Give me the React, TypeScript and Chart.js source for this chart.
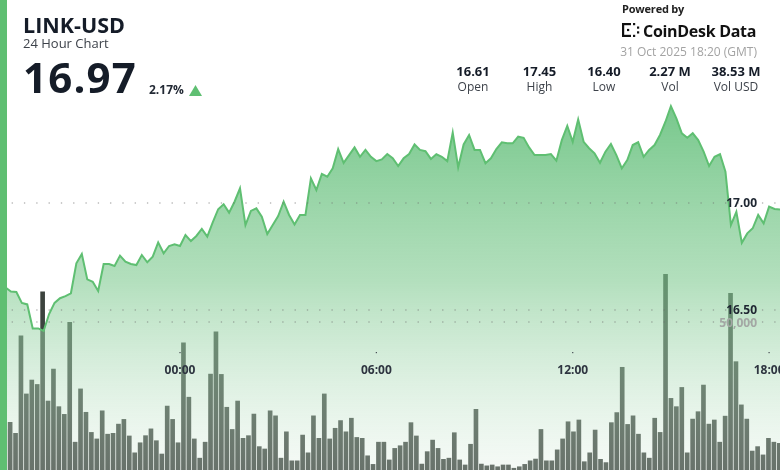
import React, { useEffect, useRef } from "react";
import { Chart, registerables } from "chart.js";

Chart.register(...registerables);

// ---- Data (10-minute intervals, 24h ending 31 Oct 2025 18:20 GMT) ----
const firstTimeLabel = "18:30"; // previous day
const intervalMinutes = 10;

const prices: number[] = [
  16.610, 16.605, 16.586, 16.584, 16.533, 16.526, 16.414, 16.414, 16.402, 16.481,
  16.533, 16.555, 16.565, 16.578, 16.718, 16.762, 16.643, 16.632, 16.589, 16.715,
  16.715, 16.706, 16.754, 16.726, 16.715, 16.710, 16.757, 16.723, 16.749, 16.816,
  16.765, 16.799, 16.807, 16.799, 16.850, 16.822, 16.846, 16.879, 16.843, 16.910,
  16.971, 16.994, 16.955, 17.006, 17.069, 16.897, 16.963, 16.975, 16.936, 16.855,
  16.897, 16.939, 17.006, 16.944, 16.900, 16.944, 16.944, 17.115, 17.061, 17.136,
  17.123, 17.162, 17.252, 17.188, 17.224, 17.260, 17.216, 17.248, 17.216, 17.196,
  17.204, 17.229, 17.210, 17.173, 17.209, 17.229, 17.274, 17.248, 17.242, 17.206,
  17.228, 17.216, 17.196, 17.329, 17.167, 17.274, 17.318, 17.248, 17.248, 17.186,
  17.209, 17.252, 17.284, 17.279, 17.279, 17.310, 17.305, 17.260, 17.224, 17.224,
  17.224, 17.229, 17.198, 17.294, 17.360, 17.286, 17.391, 17.286, 17.256, 17.232,
  17.188, 17.240, 17.276, 17.224, 17.162, 17.201, 17.271, 17.284, 17.216, 17.248,
  17.271, 17.318, 17.380, 17.453, 17.396, 17.326, 17.305, 17.326, 17.294, 17.240,
  17.173, 17.216, 17.228, 17.146, 16.897, 16.959, 16.814, 16.858, 16.882, 16.944,
  16.905, 16.983, 16.972, 16.970,
];

const volumes: number[] = [
  14000,
  16100, 12400, 45300, 25700, 30400, 28900, 60200, 23300, 34100, 21400,
  18800, 49900, 9400, 27400, 19500, 12700, 10500, 20000, 12100, 12400,
  15500, 17100, 11500, 5800, 9200, 11600, 13900, 9900, 5400, 21600,
  17100, 9200, 43000, 24600, 10500, 4000, 9400, 32400, 46700, 32300,
  21200, 13700, 23300, 10700, 11600, 18900, 7900,
  7100, 20000, 18300, 4000, 12900, 3100, 3100, 11800, 5800, 18300,
  10700, 25700, 10500, 14100, 16700, 12900, 17500, 11000, 10700, 4800,
  1900, 9400, 9400, 3400, 7300, 8200, 9400, 16000, 11500, 2000,
  6200, 10100, 7300, 3600, 4000, 12600, 3400, 1700, 8700, 20500,
  2000, 1400, 1700, 1100, 1700, 1700, 600, 1100,
  1900, 3100, 3700, 13700, 3100, 3100, 6800, 10500, 16300, 12900,
  16900, 2800, 5800, 13500, 3600, 2500, 16000, 19400, 34700, 15400,
  18300, 12100, 5800, 4000, 17500, 12700, 66100, 24200, 21400, 27900,
  5800, 17200, 19700, 28700, 15500, 16900, 9400, 18200, 59700, 36600,
  22000, 17200, 6400, 7900, 5100, 10700, 9400,
  9000,
];

const priceTicks: number[] = [17.0, 16.5];
const volumeTicks: number[] = [50000];
const timeTickLabels: string[] = ["00:00", "06:00", "12:00", "18:00"];

const statValues: string[] = ["16.61", "17.45", "16.40", "2.27 M", "38.53 M"];
const statLabels: string[] = ["Open", "High", "Low", "Vol", "Vol USD"];

// time labels for the category axis (one per bar / point)
const buildTimeLabels = (n: number) => {
  const [h, m] = firstTimeLabel.split(":").map(Number);
  const out: string[] = [];
  for (let i = 0; i < n; i++) {
    const t = (h * 60 + m + i * intervalMinutes) % 1440;
    out.push(`${String(Math.floor(t / 60)).padStart(2, "0")}:${String(t % 60).padStart(2, "0")}`);
  }
  return out;
};
const timeLabels = buildTimeLabels(prices.length);

const GREEN = "#5fbf72";
const FONT = "'Open Sans', 'Noto Sans', sans-serif";

export default function App() {
  const canvasRef = useRef<HTMLCanvasElement | null>(null);

  useEffect(() => {
    const canvas = canvasRef.current;
    if (!canvas) return;

    const overlay = {
      id: "overlay",
      afterDatasetsDraw(chart: any) {
        const c = chart.ctx as CanvasRenderingContext2D;
        const { left, right } = chart.chartArea;
        const yP = chart.scales.yPrice;
        const yV = chart.scales.yVol;
        const x = chart.scales.x;
        c.save();
        // dotted grid lines
        c.fillStyle = "rgba(110,110,110,0.55)";
        const rows = [
          ...priceTicks.map((t) => yP.getPixelForValue(t)),
          ...volumeTicks.map((t) => yV.getPixelForValue(t)),
        ];
        rows.forEach((py) => {
          for (let px = left + 12.3; px < right; px += 12.3) {
            c.beginPath();
            c.arc(px, py, 0.8, 0, Math.PI * 2);
            c.fill();
          }
        });
        // y labels
        c.font = `bold 12px ${FONT}`;
        c.textAlign = "right";
        c.textBaseline = "middle";
        priceTicks.forEach((t) => {
          const py = yP.getPixelForValue(t);
          c.fillStyle = "#1e2631";
          c.fillText(t.toFixed(2), right - 23, py + 1);
        });
        volumeTicks.forEach((t) => {
          const py = yV.getPixelForValue(t);
          c.fillStyle = "#a3a7a4";
          c.fillText(t.toLocaleString("en-US"), right - 23, py + 2);
        });
        // x ticks
        c.textAlign = "center";
        timeTickLabels.forEach((lab) => {
          const idx = timeLabels.indexOf(lab);
          if (idx < 0) return;
          const px = x.getPixelForValue(idx);
          c.fillStyle = "#444a52";
          c.fillRect(px - 0.6, 352, 1.2, 1.2);
          c.fillStyle = "#2e3540";
          c.fillText(lab, px, 371);
        });
        c.restore();
      },
    };

    const chart = new Chart(canvas, {
      type: "bar",
      data: {
        labels: timeLabels,
        datasets: [
          {
            type: "line",
            data: prices,
            xAxisID: "x",
            yAxisID: "yPrice",
            borderColor: GREEN,
            borderWidth: 2,
            pointRadius: 0,
            tension: 0,
            fill: "start",
            order: 0,
            backgroundColor: (ctx: any) => {
              const ch = ctx.chart;
              const area = ch.chartArea;
              if (!area) return "rgba(96,190,120,0.5)";
              const top = ch.scales.yPrice.getPixelForValue(Math.max(...prices));
              const g = ch.ctx.createLinearGradient(0, top, 0, area.bottom);
              g.addColorStop(0, "rgba(96,190,120,0.85)");
              g.addColorStop(0.48, "rgba(128,202,145,0.6)");
              g.addColorStop(1, "rgba(219,237,223,0.28)");
              return g;
            },
          } as any,
          {
            type: "bar",
            data: volumes,
            xAxisID: "xv",
            yAxisID: "yVol",
            backgroundColor: "#3c433e",
            barThickness: 4,
            order: 1,
          } as any,
        ],
      },
      options: {
        animation: false,
        responsive: false,
        maintainAspectRatio: false,
        layout: { padding: 0 },
        plugins: { legend: { display: false }, tooltip: { enabled: false } },
        scales: {
          x: { type: "category", display: false, offset: false },
          xv: { type: "category", display: false, offset: true },
          yPrice: { type: "linear", display: false, min: 15.752, max: 17.949 },
          yVol: { type: "linear", display: false, min: 0, max: 158800 },
        },
      } as any,
      plugins: [overlay],
    });
    return () => chart.destroy();
  }, []);

  const abs = (s: React.CSSProperties): React.CSSProperties => ({
    position: "absolute",
    lineHeight: 1,
    whiteSpace: "nowrap",
    fontFamily: FONT,
    ...s,
  });
  const centers = [473, 539.5, 604, 670, 736];

  return (
    <div
      style={{
        position: "fixed",
        left: 0,
        top: 0,
        width: 780,
        height: 470,
        background: "#fff",
        overflow: "hidden",
      }}
    >
      <canvas
        ref={canvasRef}
        width={780}
        height={470}
        style={{ position: "absolute", left: 0, top: 0, width: 780, height: 470 }}
      />
      <div style={{ position: "absolute", left: 0, top: 0, width: 7, height: 470, background: GREEN }} />
      <div style={abs({ left: 23, top: 14.3, fontSize: 21.5, fontWeight: 700, color: "#151c28" })}>LINK-USD</div>
      <div style={abs({ left: 23, top: 37, fontSize: 13, color: "#3d424a" })}>24 Hour Chart</div>
      <div style={abs({ left: 23, top: 55.8, fontSize: 42, fontWeight: 700, color: "#151c28", letterSpacing: 1.2 })}>
        16.97
      </div>
      <div style={abs({ left: 149, top: 83.6, fontSize: 12, fontWeight: 700, color: "#232a35" })}>2.17%</div>
      <svg style={{ position: "absolute", left: 189, top: 85 }} width={13} height={11}>
        <polygon points="6.5,0 13,11 0,11" fill={GREEN} />
      </svg>

      <div style={abs({ left: 622, top: 2.5, fontSize: 11, fontWeight: 700, color: "#222", letterSpacing: -0.2 })}>
        Powered by
      </div>
      <svg style={{ position: "absolute", left: 622, top: 23 }} width={18} height={14}>
        <rect x={0} y={0} width={2.2} height={14} fill="#111" />
        <rect x={0} y={0} width={9} height={2.2} fill="#111" />
        <rect x={0} y={11.8} width={9} height={2.2} fill="#111" />
        <rect x={5} y={5.9} width={2.2} height={2.2} fill="#111" />
        <rect x={11} y={0} width={2.2} height={2.2} fill="#111" />
        <rect x={11} y={11.8} width={2.2} height={2.2} fill="#111" />
        <rect x={15} y={3.5} width={2.2} height={2.2} fill="#111" />
        <rect x={15} y={8.3} width={2.2} height={2.2} fill="#111" />
      </svg>
      <div style={abs({ left: 643, top: 22.5, fontSize: 16, fontWeight: 700, color: "#111", letterSpacing: -0.3 })}>
        CoinDesk Data
      </div>
      <div style={abs({ right: 23, top: 46, fontSize: 12, color: "#a3a3a3" })}>31 Oct 2025 18:20 (GMT)</div>

      {statValues.map((v, i) => (
        <React.Fragment key={statLabels[i]}>
          <div
            style={abs({
              left: centers[i] - 50,
              width: 100,
              textAlign: "center",
              top: 64.5,
              fontSize: 13,
              fontWeight: 700,
              color: "#151c28",
            })}
          >
            {v}
          </div>
          <div
            style={abs({
              left: centers[i] - 50,
              width: 100,
              textAlign: "center",
              top: 81,
              fontSize: 12,
              color: "#3d424a",
            })}
          >
            {statLabels[i]}
          </div>
        </React.Fragment>
      ))}
    </div>
  );
}
